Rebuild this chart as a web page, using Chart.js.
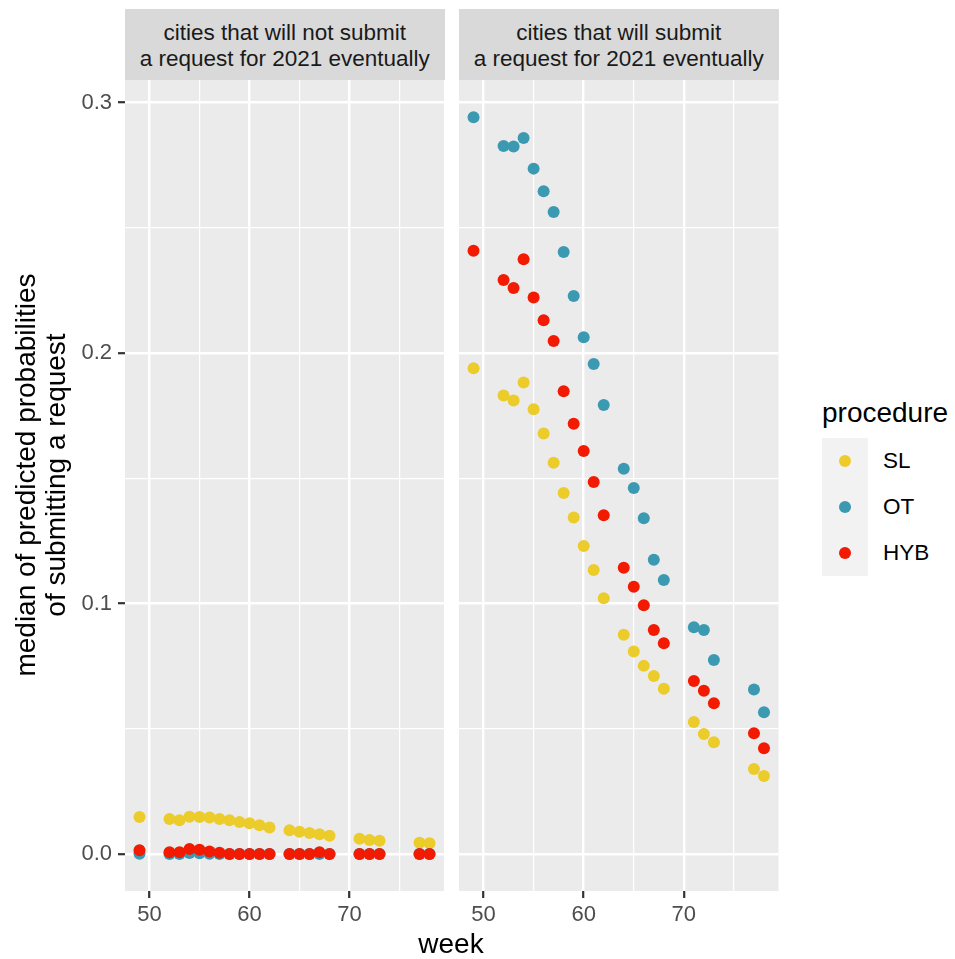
<!DOCTYPE html>
<html lang="en">
<head>
    <meta charset="UTF-8">
    <title>Median predicted probabilities by week</title>
    <script src="https://cdn.jsdelivr.net/npm/chart.js@4"></script>
    <style>
        body {
            margin: 0;
            background: #ffffff;
            font-family: "Liberation Sans", Arial, sans-serif;
        }
        #wrap {
            position: relative;
            width: 955px;
            height: 959px;
            overflow: hidden;
        }
        canvas { position: absolute; top: 0; }
        .strip {
            position: absolute;
            top: 9px;
            height: 71px;
            background: #D9D9D9;
            color: #1A1A1A;
            font-size: 22.5px;
            line-height: 25.5px;
            display: flex;
            align-items: center;
            justify-content: center;
            text-align: center;
            padding-top: 2px;
            box-sizing: border-box;
        }
        .title {
            position: absolute;
            color: #000000;
            font-size: 28px;
            line-height: 30px;
            text-align: center;
            white-space: nowrap;
        }
        #legend-keys {
            position: absolute;
            left: 822px;
            top: 438px;
            width: 46px;
            background: #F2F2F2;
        }
        .key { position: relative; height: 46px; }
        .key span {
            position: absolute;
            left: 17px;
            top: 17px;
            width: 12px;
            height: 12px;
            border-radius: 50%;
        }
        .key-label {
            position: absolute;
            left: 883px;
            height: 46px;
            line-height: 46px;
            font-size: 22.5px;
            color: #000000;
        }
    </style>
</head>
<body>
<div id="wrap">
    <canvas id="panel-left" width="450" height="959" style="left:0"></canvas>
    <canvas id="panel-right" width="340" height="959" style="left:450px"></canvas>

    <div class="strip" id="strip-left" style="left:125px; width:319.5px"></div>
    <div class="strip" id="strip-right" style="left:459px; width:319.5px"></div>

    <!-- y axis title, rotated around its own centre -->
    <div class="title" style="left:-259px; top:445px; width:600px; height:60px; transform:rotate(-90deg)">
        median of predicted probabilities<br>of submitting a request
    </div>
    <div class="title" style="left:251px; top:928px; width:400px; line-height:32px">week</div>

    <div class="title" style="left:822px; top:397px; line-height:32px; text-align:left">procedure</div>
    <div id="legend-keys"></div>
</div>

<script>
    const weeks = [49, 52, 53, 54, 55, 56, 57, 58, 59, 60, 61, 62, 64, 65, 66, 67, 68, 71, 72, 73, 77, 78];
    const procedures = ['SL', 'OT', 'HYB'];
    const procedureColors = ['#EBCC2A', '#3B9AB2', '#F21A00'];
    const facetTitles = [
        'cities that will not submit<br>a request for 2021 eventually',
        'cities that will submit<br>a request for 2021 eventually'
    ];

    // cities that will not submit a request
    const notSubmitSL  = [0.0148, 0.0140, 0.0135, 0.0149, 0.0148, 0.0146, 0.0140, 0.0135, 0.0128, 0.0123, 0.0115,
                          0.0106, 0.0095, 0.0089, 0.0084, 0.0079, 0.0073, 0.0061, 0.0056, 0.0053, 0.0045, 0.0043];
    const notSubmitOT  = [0.0001, 0.0000, 0.0000, 0.0004, 0.0003, 0.0001, 0.0000, 0.0000, 0.0000, 0.0000, 0.0000,
                          0.0000, 0.0000, 0.0000, 0.0000, 0.0000, 0.0000, 0.0000, 0.0000, 0.0000, 0.0000, 0.0000];
    const notSubmitHYB = [0.0015, 0.0007, 0.0007, 0.0020, 0.0017, 0.0010, 0.0005, 0.0000, 0.0000, 0.0000, 0.0000,
                          0.0000, 0.0000, 0.0000, 0.0000, 0.0007, 0.0000, 0.0000, 0.0000, 0.0000, 0.0000, 0.0000];

    // cities that will submit a request
    const submitSL  = [0.1939, 0.1830, 0.1810, 0.1882, 0.1775, 0.1679, 0.1562, 0.1441, 0.1343, 0.1230, 0.1134,
                       0.1021, 0.0875, 0.0808, 0.0751, 0.0711, 0.0660, 0.0527, 0.0479, 0.0446, 0.0339, 0.0311];
    const submitOT  = [0.2941, 0.2826, 0.2824, 0.2858, 0.2736, 0.2646, 0.2563, 0.2403, 0.2228, 0.2063, 0.1956,
                       0.1792, 0.1538, 0.1461, 0.1340, 0.1175, 0.1094, 0.0905, 0.0894, 0.0774, 0.0657, 0.0566];
    const submitHYB = [0.2408, 0.2291, 0.2259, 0.2374, 0.2222, 0.2131, 0.2048, 0.1847, 0.1718, 0.1609, 0.1485,
                       0.1352, 0.1143, 0.1067, 0.0993, 0.0894, 0.0841, 0.0691, 0.0652, 0.0602, 0.0482, 0.0422];

    const xTicks = [50, 60, 70];
    const yTicks = [0.0, 0.1, 0.2, 0.3];
    const FONT = '"Liberation Sans", Arial, sans-serif';

    const isMajorX = v => xTicks.includes(v);
    const isMajorY = v => yTicks.some(t => Math.abs(t - v) < 1e-6);

    // grey panel behind the grid lines
    const panelBg = {
        id: 'panelBg',
        beforeDraw(chart) {
            const { ctx, chartArea: a } = chart;
            ctx.save();
            ctx.fillStyle = '#EBEBEB';
            ctx.fillRect(a.left, a.top, a.right - a.left, a.bottom - a.top);
            ctx.restore();
        }
    };

    function drawPanel(canvasId, seriesList, withYLabels) {
        new Chart(document.getElementById(canvasId), {
            type: 'scatter',
            data: {
                datasets: seriesList.map((vals, i) => ({
                    label: procedures[i],
                    data: weeks.map((w, j) => ({ x: w, y: vals[j] })),
                    backgroundColor: procedureColors[i],
                    borderColor: procedureColors[i],
                    borderWidth: 0,
                    pointRadius: 6,
                    pointHoverRadius: 6,
                    order: 3 - i   // HYB drawn on top
                }))
            },
            options: {
                responsive: false,
                animation: false,
                events: [],
                layout: {
                    padding: withYLabels
                        ? { top: 80, left: 0, right: 5.5, bottom: 28 }
                        : { top: 80, left: 9, right: 11.5, bottom: 28 }
                },
                plugins: {
                    legend: { display: false },
                    tooltip: { enabled: false }
                },
                scales: {
                    x: {
                        type: 'linear',
                        min: 47.55,
                        max: 79.45,
                        afterFit: s => { s.height = 40; },
                        border: { display: false },
                        grid: {
                            color: '#FFFFFF',
                            lineWidth: c => isMajorX(c.tick.value) ? 2.4 : 1.2,
                            tickColor: c => isMajorX(c.tick.value) ? '#333333' : 'rgba(0,0,0,0)',
                            tickLength: 7,
                            tickWidth: 2.2
                        },
                        ticks: {
                            stepSize: 5,
                            includeBounds: false,
                            autoSkip: false,
                            maxRotation: 0,
                            padding: 4,
                            color: '#4D4D4D',
                            font: { family: FONT, size: 22 },
                            callback: v => isMajorX(v) ? String(v) : ''
                        }
                    },
                    y: {
                        type: 'linear',
                        min: -0.01477,
                        max: 0.30898,
                        afterFit: s => { s.width = withYLabels ? 125 : 0; },
                        border: { display: false },
                        grid: {
                            color: '#FFFFFF',
                            lineWidth: c => isMajorY(c.tick.value) ? 2.4 : 1.2,
                            tickColor: c => isMajorY(c.tick.value) ? '#333333' : 'rgba(0,0,0,0)',
                            drawTicks: withYLabels,
                            tickLength: 7,
                            tickWidth: 2.2
                        },
                        ticks: {
                            display: withYLabels,
                            stepSize: 0.05,
                            includeBounds: false,
                            autoSkip: false,
                            padding: 6,
                            color: '#4D4D4D',
                            font: { family: FONT, size: 22 },
                            callback: v => isMajorY(v) ? v.toFixed(1) : ''
                        }
                    }
                }
            },
            plugins: [panelBg]
        });
    }

    drawPanel('panel-left', [notSubmitSL, notSubmitOT, notSubmitHYB], true);
    drawPanel('panel-right', [submitSL, submitOT, submitHYB], false);

    document.getElementById('strip-left').innerHTML = `<div>${facetTitles[0]}</div>`;
    document.getElementById('strip-right').innerHTML = `<div>${facetTitles[1]}</div>`;

    // legend: keys in the grey box, labels to the right
    const keys = document.getElementById('legend-keys');
    procedures.forEach((name, i) => {
        const key = document.createElement('div');
        key.className = 'key';
        key.innerHTML = `<span style="background:${procedureColors[i]}"></span>`;
        keys.appendChild(key);

        const label = document.createElement('div');
        label.className = 'key-label';
        label.style.top = (438 + i * 46) + 'px';
        label.textContent = name;
        document.getElementById('wrap').appendChild(label);
    });
</script>
</body>
</html>
